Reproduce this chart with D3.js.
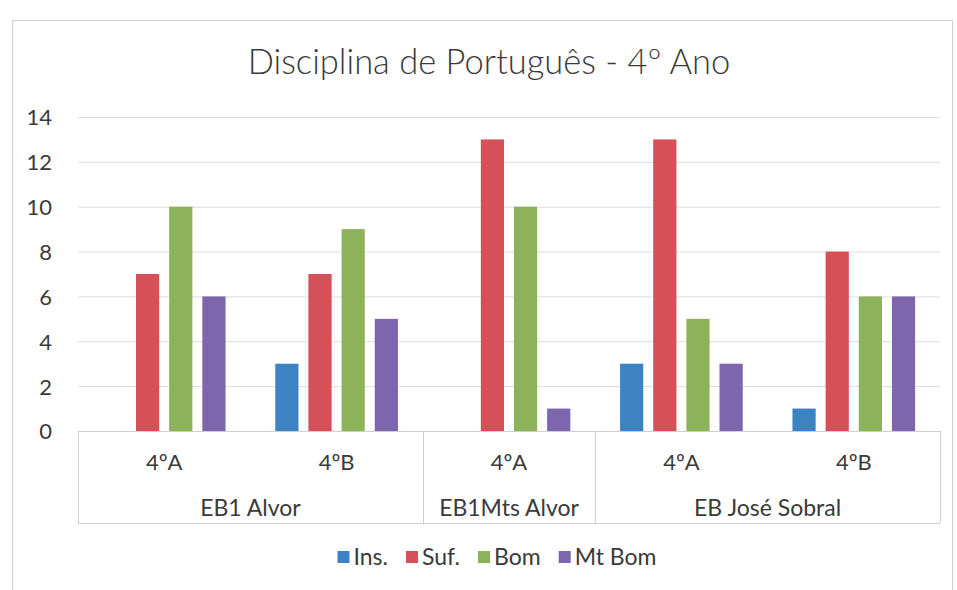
<!DOCTYPE html>
<html><head><meta charset="utf-8">
<script src="https://cdn.jsdelivr.net/npm/d3@7"></script>
<style>body{margin:0;background:#fff}svg{display:block}</style>
</head><body>
<svg id="c" width="957" height="590"></svg>
<script>
const schools = ["EB1 Alvor", "EB1 Alvor", "EB1Mts Alvor", "EB José Sobral", "EB José Sobral"];
const classes = ["4ºA", "4ºB", "4ºA", "4ºA", "4ºB"];
const seriesNames = ["Ins.", "Suf.", "Bom", "Mt Bom"];
const insValues = [0, 3, 0, 3, 1];
const sufValues = [7, 7, 13, 13, 8];
const bomValues = [10, 9, 10, 5, 6];
const mtBomValues = [6, 5, 1, 3, 6];
const yTicks = [0, 2, 4, 6, 8, 10, 12, 14];
const colors = ["#3d83c4", "#d65058", "#8cb35a", "#7d66ae"];
const title = "Disciplina de Português - 4º Ano";

const series = [insValues, sufValues, bomValues, mtBomValues];
const font = "Lato, 'Open Sans', sans-serif";
const txt = "#3a3a3a";
const svg = d3.select("#c");
const L = 78, R = 940, T = 117, B = 431, AB = 523;

svg.append("rect").attr("x", 12.5).attr("y", 20.5).attr("width", 940).attr("height", 580)
  .attr("fill", "#fff").attr("stroke", "#d0d0d0");

svg.append("text").attr("x", 489).attr("y", 74).attr("text-anchor", "middle")
  .attr("font-family", font).attr("font-weight", 300).attr("font-size", 34.5).attr("fill", txt).text(title);

const y = d3.scaleLinear().domain([0, 14]).range([B, T]);
const x0 = d3.scaleBand().domain(d3.range(classes.length)).range([L, R]).paddingInner(0).paddingOuter(0);
const x1 = d3.scaleBand().domain(d3.range(seriesNames.length)).range([0, x0.bandwidth()]).paddingInner(0.3).paddingOuter(0.75);

// gridlines
svg.append("g").selectAll("line").data(yTicks.filter(d => d > 0)).join("line")
  .attr("x1", L).attr("x2", R).attr("y1", d => y(d) + 0.5).attr("y2", d => y(d) + 0.5)
  .attr("stroke", "#dcdcdc");

// y axis labels
const yAxis = d3.axisLeft(y).tickValues(yTicks).tickSize(0).tickPadding(0);
const ga = svg.append("g").attr("transform", `translate(${L - 26},0)`).call(yAxis);
ga.select(".domain").remove();
ga.selectAll("text").attr("font-family", font).attr("font-size", 22).attr("fill", txt).attr("dy", "0.36em");

// bars
series.forEach((vals, si) => {
  svg.append("g").selectAll("rect").data(vals).join("rect")
    .attr("x", (d, i) => x0(i) + x1(si))
    .attr("width", x1.bandwidth())
    .attr("y", d => y(d))
    .attr("height", d => B - y(d))
    .attr("fill", colors[si]);
});

// category axis
svg.append("line").attr("x1", L).attr("x2", R).attr("y1", B + 0.5).attr("y2", B + 0.5).attr("stroke", "#cfcfcf");
svg.append("line").attr("x1", L).attr("x2", R).attr("y1", AB + 0.5).attr("y2", AB + 0.5).attr("stroke", "#cfcfcf");
const groups = [];
schools.forEach((s, i) => {
  if (!groups.length || groups[groups.length - 1].name !== s) groups.push({name: s, start: i, end: i});
  else groups[groups.length - 1].end = i;
});
const seps = [L].concat(groups.map(g => x0(g.end) + x0.bandwidth()));
svg.append("g").selectAll("line").data(seps).join("line")
  .attr("x1", d => Math.round(d) + 0.5).attr("x2", d => Math.round(d) + 0.5)
  .attr("y1", B).attr("y2", AB).attr("stroke", "#cfcfcf");
svg.append("g").selectAll("text").data(classes).join("text")
  .attr("x", (d, i) => x0(i) + x0.bandwidth() / 2).attr("y", 470)
  .attr("text-anchor", "middle").attr("font-family", font).attr("font-size", 22).attr("fill", txt).text(d => d);
svg.append("g").selectAll("text").data(groups).join("text")
  .attr("x", g => (x0(g.start) + x0(g.end) + x0.bandwidth()) / 2).attr("y", 516)
  .attr("text-anchor", "middle").attr("font-family", font).attr("font-size", 23).attr("fill", txt).text(g => g.name);

// legend
const lg = svg.append("g");
const item = lg.selectAll("g").data(seriesNames).join("g");
item.append("rect").attr("width", 12).attr("height", 12).attr("y", -14).attr("fill", (d, i) => colors[i]);
item.append("text").attr("x", 16).attr("y", 0).attr("font-family", font).attr("font-size", 23).attr("fill", txt).text(d => d);
let cx = 0;
item.each(function() {
  d3.select(this).attr("transform", `translate(${cx},0)`);
  cx += this.getBBox().width + 18;
});
const totalW = cx - 18;
lg.attr("transform", `translate(${497 - totalW / 2},565)`);
</script>
</body></html>
